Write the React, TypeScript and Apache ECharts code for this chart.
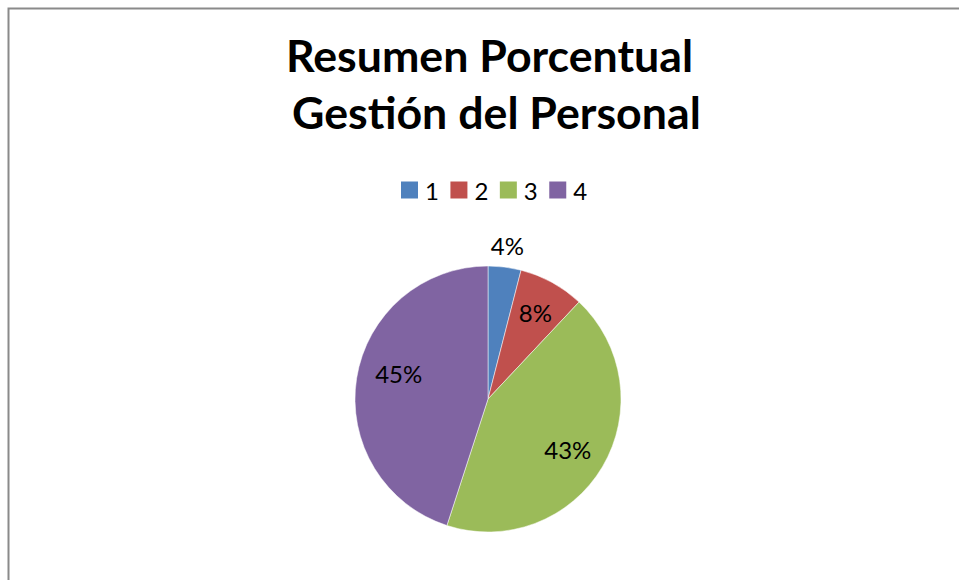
import React, { useEffect, useRef } from "react";
import * as echarts from "echarts";

const categories = ["1", "2", "3", "4"];
const values = [4, 8, 43, 45];
const colors = ["#4F81BD", "#C0504D", "#9BBB59", "#8064A2"];
const titleLines = ["Resumen Porcentual", "Gestión del Personal"];

const FONT = "Lato, 'Open Sans', sans-serif";
// small label nudges mimicking the spreadsheet's best-fit placement
const LABEL_NUDGE: Record<number, [number, number]> = { 2: [-5, 0], 3: [8, -10] };

export default function App() {
  const ref = useRef<HTMLDivElement>(null);
  useEffect(() => {
    if (!ref.current) return;
    const chart = echarts.init(ref.current, undefined, { renderer: "svg" });
    const data = categories.map((c, i) => ({
      name: c,
      value: values[i],
      itemStyle: { color: colors[i] },
    }));
    const pct = (p: any) => `${Math.round(p.percent)}%`;
    const titleStyle = {
      fontFamily: FONT,
      fontWeight: "bold",
      fontSize: 44.7,
      lineHeight: 55,
      color: "#000000",
    };
    chart.setOption({
      animation: false,
      backgroundColor: "#ffffff",
      title: [
        { text: titleLines[0], left: 286, top: 27, padding: 0, textStyle: titleStyle },
        { text: titleLines[1], left: 292, top: 84, padding: 0, textStyle: titleStyle },
      ],
      legend: {
        data: categories,
        top: 178,
        left: 401,
        padding: 0,
        itemWidth: 17,
        itemHeight: 17,
        itemGap: 11.5,
        icon: "rect",
        itemStyle: { borderWidth: 0 },
        textStyle: {
          fontFamily: FONT,
          fontSize: 24,
          color: "#000000",
          padding: [0, 0, 0, 2],
        },
      },
      graphic: [
        {
          type: "rect",
          shape: { x: 8.5, y: 8.5, width: 1000, height: 1000 },
          style: { fill: "none", stroke: "#8a8a8a", lineWidth: 2 },
          silent: true,
        },
      ],
      series: [
        {
          type: "pie",
          radius: 133,
          center: [488, 399],
          startAngle: 90,
          clockwise: true,
          data,
          label: { show: false },
          labelLine: { show: false },
          itemStyle: { borderColor: "#ffffff", borderWidth: 0.5 },
          emphasis: { disabled: true },
        },
        {
          type: "pie",
          radius: [58, 133],
          center: [488, 399],
          startAngle: 90,
          clockwise: true,
          silent: true,
          data: data.map((d, i) => ({
            name: d.name,
            value: d.value,
            itemStyle: { color: "rgba(0,0,0,0)" },
            label: { show: i > 0 },
          })),
          label: {
            position: "inside",
            formatter: pct,
            fontFamily: FONT,
            fontSize: 24,
            color: "#000000",
          },
          labelLayout: (p: any) => {
            const n = LABEL_NUDGE[p.dataIndex];
            return n ? { dx: n[0], dy: n[1] } : {};
          },
          labelLine: { show: false },
          emphasis: { disabled: true },
        },
        {
          type: "pie",
          radius: [133, 170],
          center: [488, 399],
          startAngle: 90,
          clockwise: true,
          silent: true,
          data: data.map((d, i) => ({
            name: d.name,
            value: d.value,
            itemStyle: { color: "rgba(0,0,0,0)" },
            label: { show: i === 0 },
          })),
          label: {
            position: "inside",
            formatter: pct,
            fontFamily: FONT,
            fontSize: 24,
            color: "#000000",
          },
          labelLine: { show: false },
          emphasis: { disabled: true },
        },
      ],
    });
    return () => chart.dispose();
  }, []);
  return (
    <div
      ref={ref}
      style={{ position: "fixed", left: 0, top: 0, width: 959, height: 580 }}
    />
  );
}
